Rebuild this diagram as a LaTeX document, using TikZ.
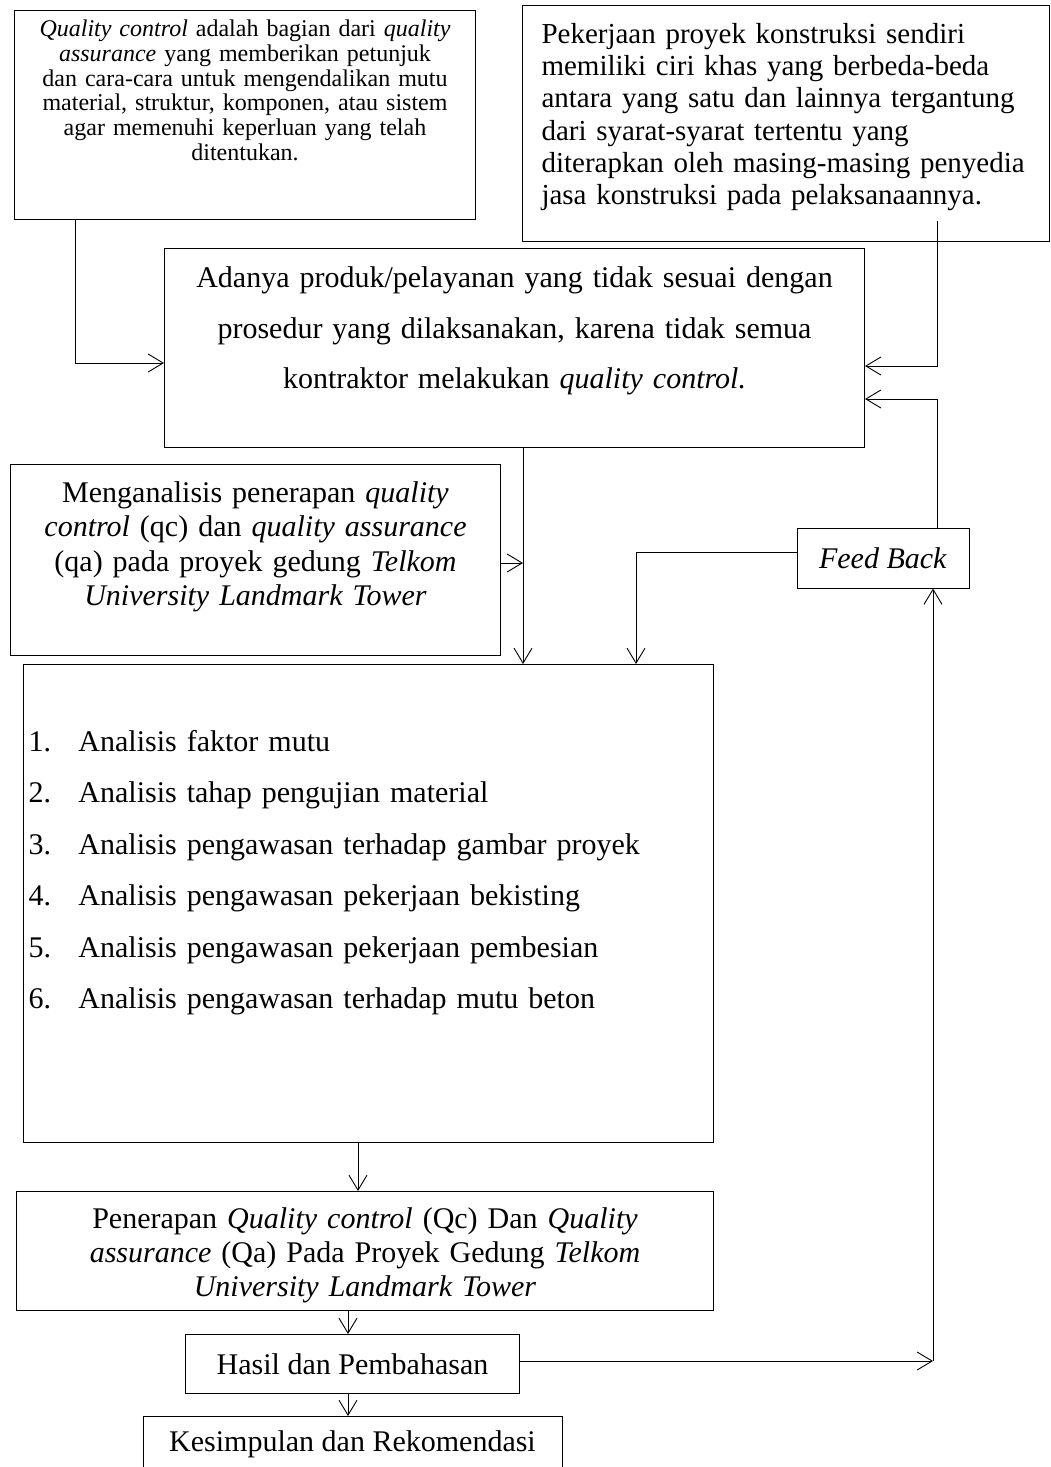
\documentclass[tikz,border=0pt]{standalone}
\usepackage{fontspec}
\setmainfont{Liberation Serif}
\usetikzlibrary{arrows.meta, positioning}
\tikzstyle{box} = [rectangle, draw=black, line width=1pt, inner sep=0pt, align=center, font=\fontsize{30}{34}\selectfont]
\tikzstyle{arrow} = [line width=0.9pt, -{Straight Barb[length=15pt,width=18pt]}]

\begin{document}
\begin{tikzpicture}[x=1pt, y=-1pt]
\useasboundingbox (0,0) rectangle (1051,1467);

% Top boxes
\node (qc) [box, anchor=north west, text width=461pt, text height=26pt, text depth=183pt, font=\fontsize{24}{24.8}\selectfont] at (14,10) {\textit{Quality control} adalah bagian dari \textit{quality}\\ \textit{assurance} yang memberikan petunjuk\\ dan cara-cara untuk mengendalikan mutu\\ material, struktur, komponen, atau sistem\\ agar memenuhi keperluan yang telah\\ ditentukan.};
\node (proyek) [box, anchor=north west, align=left, inner xsep=19pt, text width=489pt, text height=38pt, text depth=198pt, font=\fontsize{29}{32.2}\selectfont] at (522,5) {\mbox{Pekerjaan proyek konstruksi sendiri}\\ \mbox{memiliki ciri khas yang berbeda-beda}\\ \mbox{antara yang satu dan lainnya tergantung}\\ \mbox{dari syarat-syarat tertentu yang}\\ \mbox{diterapkan oleh masing-masing penyedia}\\ \mbox{jasa konstruksi pada pelaksanaannya.}};

% Problem
\node (adanya) [box, anchor=north west, text width=700pt, text height=39pt, text depth=160pt, font=\fontsize{30}{50.5}\selectfont] at (164,248) {Adanya produk/pelayanan yang tidak sesuai dengan\\ prosedur yang dilaksanakan, karena tidak semua\\ kontraktor melakukan \textit{quality control.}};

% Aim and feedback
\node (menganalisis) [box, anchor=north west, text width=490pt, text height=38pt, text depth=153pt, font=\fontsize{30}{34.3}\selectfont] at (10,464) {Menganalisis penerapan \textit{quality}\\ \textit{control} (qc) dan \textit{quality assurance}\\ (qa) pada proyek gedung \textit{Telkom}\\ \textit{University Landmark Tower}};
\node (fb) [box, minimum width=172pt, minimum height=60pt] at (883,558) {\textit{Feed Back}};

% Analysis list
\node (analisis) [box, anchor=north west, align=left, inner xsep=5pt, text width=680pt, text height=87pt, text depth=391pt, font=\fontsize{30}{51.4}\selectfont] at (23,664) {\makebox[50pt][l]{1.}Analisis faktor mutu\\ \makebox[50pt][l]{2.}Analisis tahap pengujian material\\ \makebox[50pt][l]{3.}Analisis pengawasan terhadap gambar proyek\\ \makebox[50pt][l]{4.}Analisis pengawasan pekerjaan bekisting\\ \makebox[50pt][l]{5.}Analisis pengawasan pekerjaan pembesian\\ \makebox[50pt][l]{6.}Analisis pengawasan terhadap mutu beton};

% Results
\node (penerapan) [box, anchor=north west, text width=697pt, text height=37pt, text depth=82pt] at (16,1191) {Penerapan \textit{Quality control} (Qc) Dan \textit{Quality}\\ \textit{assurance} (Qa) Pada Proyek Gedung \textit{Telkom}\\ \textit{University Landmark Tower}};
\node (hasil) [box, below=23pt of penerapan, xshift=-12.5pt, minimum width=334pt, minimum height=59pt] {Hasil dan Pembahasan};
\node (kesimpulan) [box, below=22pt of hasil, minimum width=419pt, minimum height=56pt] {Kesimpulan dan Rekomendasi};

% Bends
\coordinate (qcturn) at (75,363);
\coordinate (pkturn) at (937,366);
\coordinate (fbturn) at (937,399);
\coordinate (cdown) at (523,563);
\coordinate (fbleft) at (636,552);
\coordinate (hasilturn) at (933,1361);
\coordinate (efx) at (358,0);
\coordinate (fhx) at (348,0);

% Arrows into the problem box
\draw [arrow] (qc.south -| qcturn) -- (qcturn) -- (adanya.west |- qcturn);
\draw [arrow] ([yshift=21pt]proyek.south -| pkturn) -- (pkturn) -- (adanya.east |- pkturn);
\draw [arrow] (fb.north -| fbturn) -- (fbturn) -- (adanya.east |- fbturn);

% Arrows into the list
\draw [arrow] (adanya.south -| cdown) -- (analisis.north -| cdown);
\draw [arrow] (menganalisis.east |- cdown) -- (cdown);
\draw [arrow] (fb.west |- fbleft) -- (fbleft) -- (analisis.north -| fbleft);

% Arrows down and back to feedback
\draw [arrow] (analisis.south -| efx) -- (penerapan.north -| efx);
\draw [arrow] (penerapan.south -| fhx) -- (hasil.north -| fhx);
\draw [arrow] (hasil.south -| fhx) -- (kesimpulan.north -| fhx);
\draw [arrow] (hasil.east |- hasilturn) -- (hasilturn);
\draw [arrow] (hasilturn) -- (fb.south -| hasilturn);

\end{tikzpicture}
\end{document}
